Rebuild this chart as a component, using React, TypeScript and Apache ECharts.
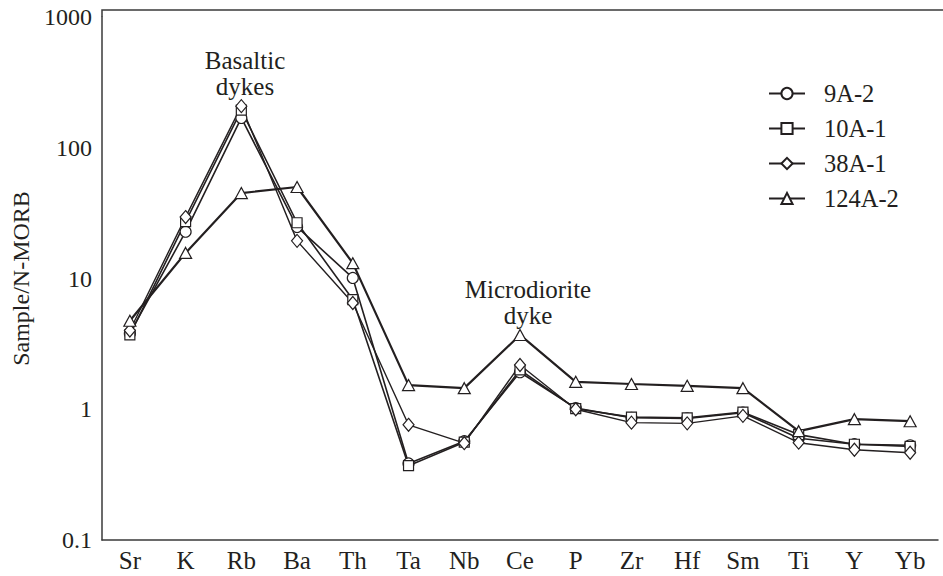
import React, { useEffect, useRef } from "react";
import * as echarts from "echarts";

const categories = ["Sr", "K", "Rb", "Ba", "Th", "Ta", "Nb", "Ce", "P", "Zr", "Hf", "Sm", "Ti", "Y", "Yb"];
const yTicks = [0.1, 1, 10, 100, 1000];

const s9A2 = [3.8, 22.8, 169, 24.8, 10.1, 0.385, 0.57, 1.92, 1.02, 0.86, 0.85, 0.94, 0.6, 0.54, 0.53];
const s10A1 = [3.7, 27.2, 194, 26.7, 6.9, 0.37, 0.56, 2.0, 1.01, 0.87, 0.86, 0.95, 0.64, 0.54, 0.52];
const s38A1 = [4.0, 29.5, 208, 19.4, 6.5, 0.76, 0.55, 2.18, 1.0, 0.79, 0.78, 0.89, 0.555, 0.49, 0.465];
const s124A2 = [4.75, 15.7, 45, 50.1, 13.1, 1.53, 1.45, 3.7, 1.62, 1.56, 1.51, 1.45, 0.68, 0.84, 0.81];

const seriesNames = ["9A-2", "10A-1", "38A-1", "124A-2"];

const INK = "#231f20";
const FONT = "Liberation Serif";

export default function App() {
  const ref = useRef<HTMLDivElement>(null);
  useEffect(() => {
    if (!ref.current) return;
    const chart = echarts.init(ref.current, undefined, { renderer: "svg" });
    const mk = (name: string, data: number[], symbol: string, size: any, lw: number) => ({
      name,
      type: "line",
      data,
      symbol,
      symbolSize: size,
      showSymbol: true,
      lineStyle: { color: INK, width: lw },
      itemStyle: { color: "#ffffff", borderColor: INK, borderWidth: 1.2 },
      emphasis: { disabled: true },
    });
    chart.setOption({
      animation: false,
      textStyle: { fontFamily: FONT },
      grid: { left: 102, top: 17, right: 5, bottom: 36, containLabel: false },
      legend: {
        orient: "vertical",
        left: 763,
        top: 76,
        itemWidth: 36,
        itemHeight: 14,
        itemGap: 10,
        data: seriesNames,
        textStyle: { fontFamily: FONT, fontSize: 24.5, color: INK, padding: [0, 0, 0, 14] },
      },
      xAxis: {
        type: "category",
        data: categories,
        boundaryGap: true,
        axisLine: { lineStyle: { color: "#3a3a3a", width: 1.5 } },
        axisTick: { inside: true, length: 6, lineStyle: { color: "#3a3a3a", width: 1.2 } },
        axisLabel: { fontFamily: FONT, fontSize: 25, color: INK, margin: 8 },
        splitLine: { show: false },
      },
      yAxis: {
        type: "log",
        logBase: 10,
        min: 0.1,
        max: 1000,
        name: "Sample/N-MORB",
        nameLocation: "middle",
        nameRotate: 90,
        nameGap: 66,
        nameTextStyle: { fontFamily: FONT, fontSize: 24, color: INK },
        axisLine: { show: true, lineStyle: { color: "#3a3a3a", width: 1.5 } },
        axisTick: { inside: true, length: 6, lineStyle: { color: "#3a3a3a", width: 1.2 } },
        axisLabel: {
          fontFamily: FONT,
          fontSize: 24,
          color: INK,
          margin: 10,
          formatter: (v: number) => {
            const r = yTicks.find((t) => Math.abs(t - v) / t < 1e-6);
            return r !== undefined ? String(r) : "";
          },
        },
        splitLine: { show: false },
      },
      graphic: [
        {
          type: "polyline",
          shape: { points: [[102, 17], [102, 10], [943, 10]] },
          style: { stroke: "#3a3a3a", lineWidth: 1.5, fill: null },
          silent: true,
        },
        {
          type: "text",
          x: 245,
          y: 47,
          style: {
            text: "Basaltic\ndykes",
            fontFamily: FONT,
            fontSize: 25,
            fill: INK,
            align: "center",
            verticalAlign: "top",
            lineHeight: 26.5,
          },
        },
        {
          type: "text",
          x: 528,
          y: 276,
          style: {
            text: "Microdiorite\ndyke",
            fontFamily: FONT,
            fontSize: 25,
            fill: INK,
            align: "center",
            verticalAlign: "top",
            lineHeight: 26.5,
          },
        },
      ],
      series: [
        mk(seriesNames[0], s9A2, "circle", 11, 1.6),
        mk(seriesNames[1], s10A1, "rect", 10, 1.6),
        mk(seriesNames[2], s38A1, "diamond", [11, 13], 1.4),
        mk(seriesNames[3], s124A2, "triangle", [12, 11], 2.2),
      ],
    });
    return () => chart.dispose();
  }, []);
  return <div ref={ref} style={{ position: "absolute", left: 0, top: 0, width: 943, height: 576 }} />;
}
